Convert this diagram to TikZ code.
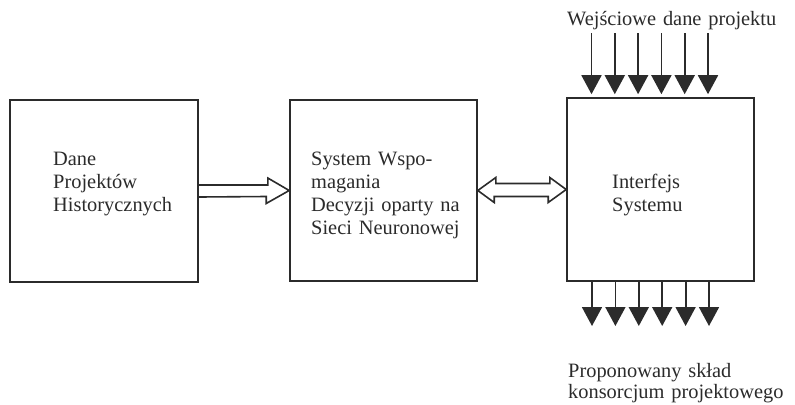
\documentclass[tikz,border=0pt]{standalone}
\usepackage{fontspec}
\setmainfont{Liberation Serif}
\usetikzlibrary{calc,arrows.meta}
\definecolor{ink}{HTML}{2B2B2B}
\begin{document}
\begin{tikzpicture}[x=1bp,y=-1bp,
  blk/.style={draw=ink,line width=1.6bp,inner sep=0pt},
  txt/.style={inner sep=0pt,text width=240bp,align=left,text=ink,font=\fontsize{20.4bp}{23.2bp}\selectfont},
  hollow/.style={draw=ink,line width=1.6bp,line join=miter},
  downarr/.style={draw=ink,line width=1.8bp,-{Triangle[width=20bp,length=19bp]}}]
\useasboundingbox (0,0) rectangle (795,404);
% boxes
\node[blk,minimum width=188bp,minimum height=182bp] (b1) at (104,191) {};
\node[blk,minimum width=187bp,minimum height=181bp] (b2) at (383.5,190.5) {};
\node[blk,minimum width=187bp,minimum height=183bp] (b3) at (660.5,189.5) {};
% texts
\node[txt,anchor=base west] (t1) at (53,165) {Dane\\Projektów\\Historycznych};
\node[txt,anchor=base west] (t2) at (311,165) {System Wspo-\\magania\\Decyzji oparty na\\Sieci Neuronowej};
\node[txt,anchor=base west] (t3) at (612,188) {Interfejs\\Systemu};
\node[txt,anchor=base west] (tin) at (567,25) {Wejściowe dane projektu};
\node[txt,anchor=base west,font=\fontsize{20.4bp}{21.5bp}\selectfont] (tout) at (568,377) {Proponowany skład\\konsorcjum projektowego};
% single hollow arrow
\draw[hollow] ($(b1.east)+(0,-6)$) -- ++(69,0) -- ++(0,-7) -- (b2.west) -- ++(-23,13) -- ++(0,-7) -- ($(b1.east)+(0,6)$);
% double hollow arrow
\draw[hollow] (b2.east) -- ++(18,-13) -- ++(0,6) -- ++(54,0) -- ++(0,-6) -- (b3.west) -- ++(-18,13) -- ++(0,-6) -- ++(-54,0) -- ++(0,6) -- cycle;
% input arrows
\foreach \i in {0,...,5}{
  \coordinate (in\i) at ({591.5+23.3*\i},33);
  \draw[downarr,shorten >=3bp] (in\i) -- (in\i |- b3.north);
}
% output arrows
\foreach \i in {0,...,5}{
  \coordinate (out\i) at ({592+23.4*\i},326);
  \draw[downarr] (out\i |- b3.south) -- (out\i);
}
\end{tikzpicture}
\end{document}
